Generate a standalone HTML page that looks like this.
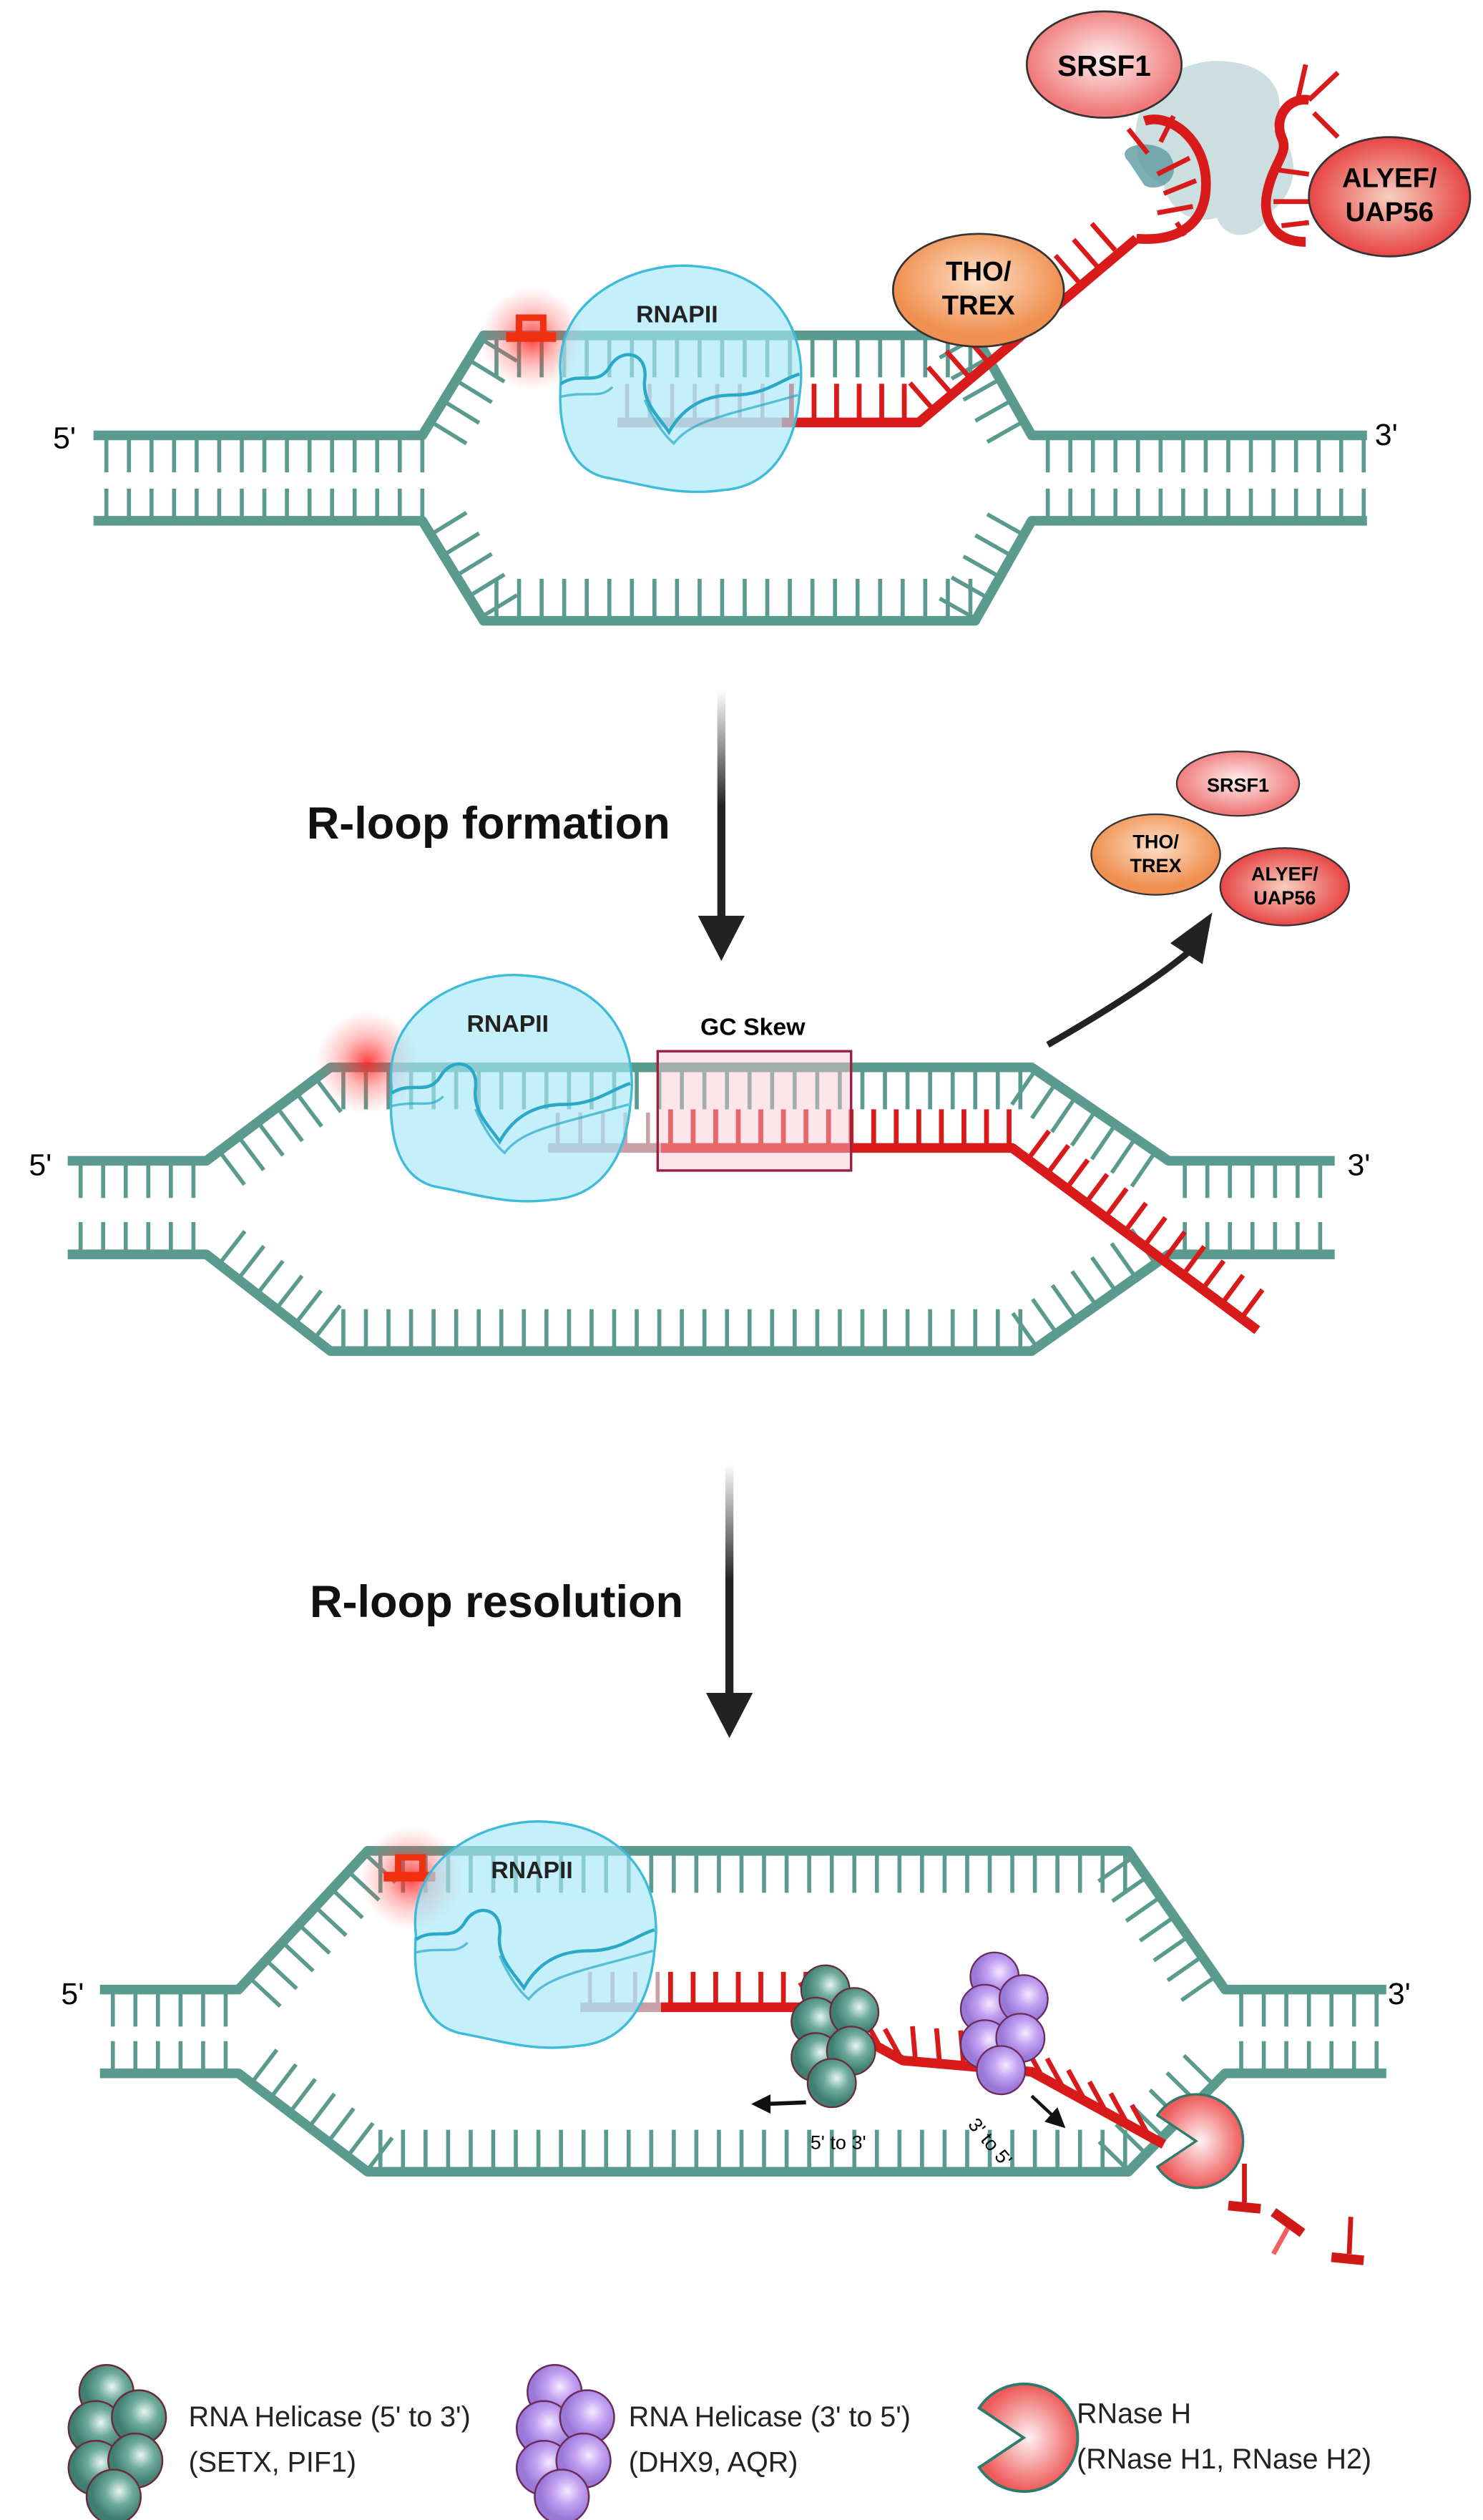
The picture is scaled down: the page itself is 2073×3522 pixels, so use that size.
<!DOCTYPE html>
<html><head><meta charset="utf-8">
<style>
html,body{margin:0;padding:0;background:#fff;}
svg{display:block;}
text{font-family:"Liberation Sans",sans-serif;}
</style></head>
<body>
<svg id="s" width="2073" height="3522" viewBox="0 0 920 1563" xmlns="http://www.w3.org/2000/svg">
<defs>
<radialGradient id="glow"><stop offset="0" stop-color="#ff2020" stop-opacity="0.85"/><stop offset="0.5" stop-color="#ff4040" stop-opacity="0.35"/><stop offset="1" stop-color="#ff6060" stop-opacity="0"/></radialGradient>
<radialGradient id="pink" cx="0.5" cy="0.45"><stop offset="0" stop-color="#fff0f0"/><stop offset="1" stop-color="#f07a7a"/></radialGradient>
<radialGradient id="red2" cx="0.5" cy="0.5"><stop offset="0" stop-color="#f5d0c0"/><stop offset="1" stop-color="#e84545"/></radialGradient>
<radialGradient id="orange" cx="0.5" cy="0.4"><stop offset="0" stop-color="#fde0c8"/><stop offset="1" stop-color="#f09050"/></radialGradient>
<radialGradient id="green" cx="0.6" cy="0.4"><stop offset="0" stop-color="#e8f5f1"/><stop offset="0.5" stop-color="#6fab9c"/><stop offset="1" stop-color="#3e7f71"/></radialGradient>
<radialGradient id="purple" cx="0.6" cy="0.4"><stop offset="0" stop-color="#f4eaff"/><stop offset="0.5" stop-color="#c3a2f2"/><stop offset="1" stop-color="#9a78d8"/></radialGradient>
<radialGradient id="pac" cx="0.5" cy="0.5"><stop offset="0" stop-color="#fff2f2"/><stop offset="1" stop-color="#ee5a5a"/></radialGradient>
<g id="pol">
<path d="M-72,-5 C-78,-55 -25,-78 10,-75 C60,-72 82,-35 76,5 C73,38 58,62 28,64 C0,68 -22,60 -45,56 C-70,50 -74,20 -72,-5 Z" fill="#a6e6f8" fill-opacity="0.65" stroke="#3dbbd9" stroke-width="1.5"/>
<path d="M-72,-2 C-60,-10 -50,0 -42,-12 C-35,-25 -18,-22 -20,-5 C-22,10 -10,20 -5,28 C5,10 20,5 35,5 C55,5 65,-5 76,-8" fill="none" stroke="#2aa8c8" stroke-width="2"/>
<path d="M-72,6 C-55,2 -48,8 -40,0 M-20,8 C-15,20 -8,30 -2,35 C10,20 30,18 75,5" fill="none" stroke="#2aa8c8" stroke-width="1.5" opacity="0.7"/>
<text x="0" y="-40" font-size="15" font-weight="bold" text-anchor="middle" fill="#222">RNAPII</text>
</g>
<g id="gcl">
<circle cx="-8" cy="-28" r="15" fill="url(#green)" stroke="#6a2a3a" stroke-width="1"/>
<circle cx="-14" cy="-8" r="15" fill="url(#green)" stroke="#6a2a3a" stroke-width="1"/>
<circle cx="10" cy="-14" r="15" fill="url(#green)" stroke="#6a2a3a" stroke-width="1"/>
<circle cx="-14" cy="14" r="15" fill="url(#green)" stroke="#6a2a3a" stroke-width="1"/>
<circle cx="8" cy="10" r="15" fill="url(#green)" stroke="#6a2a3a" stroke-width="1"/>
<circle cx="-4" cy="30" r="15" fill="url(#green)" stroke="#6a2a3a" stroke-width="1"/>
</g>
<g id="pcl">
<circle cx="-8" cy="-28" r="15" fill="url(#purple)" stroke="#6a2a5a" stroke-width="1"/>
<circle cx="-14" cy="-8" r="15" fill="url(#purple)" stroke="#6a2a5a" stroke-width="1"/>
<circle cx="10" cy="-14" r="15" fill="url(#purple)" stroke="#6a2a5a" stroke-width="1"/>
<circle cx="-14" cy="14" r="15" fill="url(#purple)" stroke="#6a2a5a" stroke-width="1"/>
<circle cx="8" cy="10" r="15" fill="url(#purple)" stroke="#6a2a5a" stroke-width="1"/>
<circle cx="-4" cy="30" r="15" fill="url(#purple)" stroke="#6a2a5a" stroke-width="1"/>
</g>
<path id="pacman" d="M0,0 L-24,-16 A29,29 0 1,1 -24,16 Z" fill="url(#pac)" stroke="#2e7a6c" stroke-width="1.5"/>
<linearGradient id="ag" x1="0" y1="0" x2="0" y2="1"><stop offset="0" stop-color="#222" stop-opacity="0"/><stop offset="0.5" stop-color="#222"/><stop offset="1" stop-color="#222"/></linearGradient>
</defs>
<g id="dna"></g>

<!-- Panel 1 -->
<circle cx="330" cy="210" r="32" fill="url(#glow)"/>
<path d="M322,209 V197 H337 V209" fill="none" stroke="#f03010" stroke-width="4"/>
<line x1="314" y1="209" x2="345" y2="209" stroke="#f03010" stroke-width="6"/>
<path d="M705,90 C700,60 730,35 760,38 C790,40 800,60 790,80 C805,90 808,115 790,130 C780,150 760,150 755,135 C740,140 725,130 722,115 C710,110 705,100 705,90 Z" fill="#b5d0d3" opacity="0.7"/>
<path d="M700,100 C690,90 715,85 725,95 C735,110 720,120 710,115 Z" fill="#5e9aa3" opacity="0.8"/>
<g fill="none" stroke="#d81a1a" stroke-width="6">
<path d="M705,148 C730,150 750,140 748,110 C746,85 725,70 710,75"/>
<path d="M810,150 C790,150 783,135 786,120 C790,100 800,95 795,85 C790,72 800,60 812,62"/>
</g>
<g stroke="#d81a1a" stroke-width="3">
<line x1="722" y1="120" x2="742" y2="112"/><line x1="718" y1="132" x2="740" y2="128"/><line x1="718" y1="108" x2="738" y2="98"/><line x1="712" y1="95" x2="700" y2="80"/><line x1="720" y1="88" x2="728" y2="72"/><line x1="730" y1="138" x2="735" y2="146"/>
<line x1="790" y1="105" x2="812" y2="108"/><line x1="790" y1="125" x2="812" y2="125"/><line x1="795" y1="140" x2="812" y2="138"/><line x1="805" y1="62" x2="810" y2="40"/><line x1="812" y1="62" x2="830" y2="45"/><line x1="815" y1="70" x2="830" y2="85"/>
</g>
<use href="#pol" x="420" y="240"/>
<ellipse cx="607" cy="180" rx="53" ry="35" fill="url(#orange)" stroke="#333" stroke-width="1.2"/>
<text x="607" y="174" font-size="17" font-weight="bold" text-anchor="middle">THO/</text>
<text x="607" y="195" font-size="17" font-weight="bold" text-anchor="middle">TREX</text>
<ellipse cx="685" cy="40" rx="48" ry="33" fill="url(#pink)" stroke="#333" stroke-width="1.2"/>
<text x="685" y="47" font-size="18" font-weight="bold" text-anchor="middle">SRSF1</text>
<ellipse cx="862" cy="122" rx="50" ry="37" fill="url(#red2)" stroke="#333" stroke-width="1.2"/>
<text x="862" y="116" font-size="17" font-weight="bold" text-anchor="middle">ALYEF/</text>
<text x="862" y="137" font-size="17" font-weight="bold" text-anchor="middle">UAP56</text>
<text x="40" y="278" font-size="19" text-anchor="middle">5'</text>
<text x="860" y="276" font-size="19" text-anchor="middle">3'</text>

<!-- Arrow 1 -->
<rect x="445" y="428" width="5" height="145" fill="url(#ag)"/>
<path d="M433,568 L462,568 L447.5,596 Z" fill="#222"/>
<text x="303" y="520" font-size="28" font-weight="bold" text-anchor="middle" fill="#111">R-loop formation</text>

<!-- Panel 2 -->
<circle cx="228" cy="659" r="32" fill="url(#glow)"/>
<use href="#pol" x="315" y="680"/>
<path d="M650,648 C690,625 720,605 738,590" fill="none" stroke="#222" stroke-width="4"/>
<path d="M726,585 L752,566 L746,598 Z" fill="#222"/>
<ellipse cx="768" cy="486" rx="38" ry="20" fill="url(#pink)" stroke="#333" stroke-width="1"/>
<text x="768" y="491" font-size="12" font-weight="bold" text-anchor="middle">SRSF1</text>
<ellipse cx="717" cy="530" rx="40" ry="25" fill="url(#orange)" stroke="#333" stroke-width="1"/>
<text x="717" y="526" font-size="12" font-weight="bold" text-anchor="middle">THO/</text>
<text x="717" y="541" font-size="12" font-weight="bold" text-anchor="middle">TREX</text>
<ellipse cx="797" cy="550" rx="40" ry="24" fill="url(#red2)" stroke="#333" stroke-width="1"/>
<text x="797" y="546" font-size="12" font-weight="bold" text-anchor="middle">ALYEF/</text>
<text x="797" y="561" font-size="12" font-weight="bold" text-anchor="middle">UAP56</text>
<text x="25" y="729" font-size="19" text-anchor="middle">5'</text>
<text x="843" y="729" font-size="19" text-anchor="middle">3'</text>
<text x="467" y="642" font-size="15" font-weight="bold" text-anchor="middle">GC Skew</text>

<!-- Arrow 2 -->
<rect x="450" y="908" width="5" height="145" fill="url(#ag)"/>
<path d="M438,1050 L467,1050 L452.5,1078 Z" fill="#222"/>
<text x="308" y="1003" font-size="28" font-weight="bold" text-anchor="middle" fill="#111">R-loop resolution</text>

<!-- Panel 3 -->
<circle cx="255" cy="1165" r="32" fill="url(#glow)"/>
<path d="M247,1164 V1152 H262 V1164" fill="none" stroke="#f03010" stroke-width="4"/>
<line x1="238" y1="1164" x2="270" y2="1164" stroke="#f03010" stroke-width="6"/>
<use href="#pol" x="330" y="1205"/>
<g id="top3"></g>
<use href="#gcl" x="520" y="1262"/>
<use href="#pcl" x="625" y="1254"/>
<use href="#pacman" x="742" y="1328"/>
<g stroke="#d01818">
<line x1="772" y1="1342" x2="772" y2="1366" stroke-width="3"/><line x1="762" y1="1368" x2="782" y2="1370" stroke-width="6"/>
<line x1="790" y1="1398" x2="800" y2="1380" stroke-width="3" stroke="#f06060"/><line x1="790" y1="1372" x2="808" y2="1385" stroke-width="6"/>
<line x1="838" y1="1375" x2="837" y2="1398" stroke-width="3"/><line x1="826" y1="1400" x2="846" y2="1402" stroke-width="6"/>
</g>
<line x1="500" y1="1304" x2="475" y2="1305" stroke="#111" stroke-width="2.5"/><path d="M466,1305 L478,1299 L478,1311 Z" fill="#111"/>
<line x1="640" y1="1300" x2="655" y2="1314" stroke="#111" stroke-width="2"/><path d="M661,1320 L648,1316 L656,1307 Z" fill="#111"/>
<text x="520" y="1333" font-size="12" text-anchor="middle">5' to 3'</text>
<text x="600" y="1318" font-size="12" transform="rotate(50 600 1318)">3' to 5'</text>
<text x="45" y="1243" font-size="19" text-anchor="middle">5'</text>
<text x="868" y="1243" font-size="19" text-anchor="middle">3'</text>

<!-- Legend -->
<g transform="translate(75 1515) scale(1.12)"><use href="#gcl"/></g>
<text x="117" y="1505" font-size="17.5" fill="#222">RNA Helicase (5' to 3')</text>
<text x="117" y="1533" font-size="17.5" fill="#222">(SETX, PIF1)</text>
<g transform="translate(353 1515) scale(1.12)"><use href="#pcl"/></g>
<text x="390" y="1505" font-size="17.5" fill="#222">RNA Helicase (3' to 5')</text>
<text x="390" y="1533" font-size="17.5" fill="#222">(DHX9, AQR)</text>
<g transform="translate(635 1512) scale(1.15)"><use href="#pacman"/></g>
<text x="668" y="1503" font-size="17.5" fill="#222">RNase H</text>
<text x="668" y="1531" font-size="17.5" fill="#222">(RNase H1, RNase H2)</text>
<rect x="408" y="652" width="120" height="74" fill="#fbc6d2" fill-opacity="0.45" stroke="#9a2040" stroke-width="1.5"/>
</svg>
<script>
var NS="http://www.w3.org/2000/svg";var g=document.getElementById("dna");
function el(n,a,p){var e=document.createElementNS(NS,n);for(var k in a)e.setAttribute(k,a[k]);(p||g).appendChild(e);return e;}
function poly(pts,c,w,op,p){el("polyline",{points:pts.map(function(q){return q.join(",")}).join(" "),fill:"none",stroke:c,"stroke-width":w||6,"stroke-linejoin":"round",opacity:op||1},p);}
function ticks(x1,y1,x2,y2,nx,ny,len,step,c,w,off,p){var dx=x2-x1,dy=y2-y1,d=Math.sqrt(dx*dx+dy*dy);off=off||6;var m=Math.sqrt(nx*nx+ny*ny);nx/=m;ny/=m;for(var s=off;s<=d;s+=step){var t=s/d;var x=x1+dx*t,y=y1+dy*t;el("line",{x1:x,y1:y,x2:x+nx*len,y2:y+ny*len,stroke:c,"stroke-width":w||2.5},p);}}
var T="#5b9a8f",R="#d81a1a",F="#c9a0a8";
function panel2(o){
 var L=o.L,Rr=o.R,a=o.a,b=o.b,c=o.c,d=o.d,ty=o.ty,by=o.by,tt=o.tt,bb=o.bb;
 var cy=(tt+bb)/2,cx=(b+c)/2;
 poly([[L,ty],[a,ty],[b,tt],[c,tt],[d,ty],[Rr,ty]],T,6);
 poly([[L,by],[a,by],[b,bb],[c,bb],[d,by],[Rr,by]],T,6);
 ticks(L,ty,a,ty,0,1,23,14,T,2.5,8);ticks(L,by,a,by,0,-1,20,14,T,2.5,8);
 ticks(d,ty,Rr,ty,0,1,23,14,T,2.5,10);ticks(d,by,Rr,by,0,-1,20,14,T,2.5,10);
 ticks(b,tt,c,tt,0,1,26,14,T,2.5,8);ticks(b,bb,c,bb,0,-1,26,14,T,2.5,8);
 [[a,ty,b,tt],[d,ty,c,tt],[a,by,b,bb],[d,by,c,bb]].forEach(function(s){
  var dx=s[2]-s[0],dy=s[3]-s[1];var nx=-dy,ny=dx;var mx=(s[0]+s[2])/2,my=(s[1]+s[3])/2;
  if(nx*(cx-mx)+ny*(cy-my)<0){nx=-nx;ny=-ny;}
  ticks(s[0],s[1],s[2],s[3],nx,ny,26,15,T,2.5,10);
 });
}
panel2({L:58,R:848,a:262,b:300,c:605,d:640,ty:270,by:323,tt:208,bb:385});
panel2({L:42,R:828,a:128,b:205,c:640,d:725,ty:720,by:778,tt:662,bb:838});
panel2({L:62,R:860,a:148,b:228,c:700,d:760,ty:1234,by:1286,tt:1148,bb:1347});
ticks(383,262,485,262,0,-1,24,14,F,2.5,6);poly([[383,262],[485,262]],F,6);
ticks(485,262,570,262,0,-1,24,14,R,3,6);
ticks(570,262,700,148,-114,-130,22,15,R,3,12);
poly([[485,262],[570,262],[705,148]],R,6);
ticks(340,712,410,712,0,-1,22,14,F,2.5,6);poly([[340,712],[410,712]],F,6);
ticks(410,712,628,712,0,-1,24,14,R,3,6);
ticks(628,712,780,825,113,-152,22,15,R,3,12);
poly([[410,712],[628,712],[780,825]],R,6);
ticks(360,1245,410,1245,0,-1,22,14,F,2.5,6);poly([[360,1245],[410,1245]],F,6);
ticks(410,1245,500,1245,0,-1,22,14,R,3,6);
ticks(500,1245,560,1278,-33,-60,22,15,R,3,8);
ticks(560,1278,640,1285,-7,-80,22,15,R,3,8);
ticks(640,1285,722,1330,-45,-82,22,15,R,3,8);
poly([[410,1245],[500,1245],[560,1278],[640,1285],[722,1330]],R,6);
</script>
</body></html>
